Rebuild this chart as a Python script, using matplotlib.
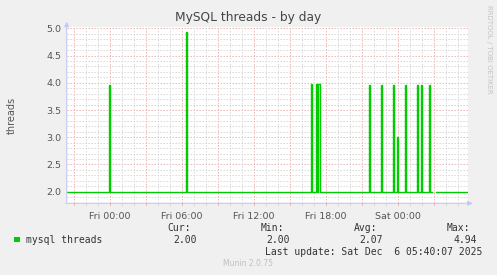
import numpy as np
import matplotlib
matplotlib.use("Agg")
import matplotlib.pyplot as plt

# hours relative to Fri 00:00, one sample every 5 minutes
start_h = -3 - 35 / 60.0     # Thu 20:25
end_h = 29 + 45 / 60.0       # Sat 05:45
step_h = 5 / 60.0
baseline = 2.0

# spikes: (hour offset, threads)
spike_hours = [-5 / 60.0, 6 + 20 / 60.0, 16.75, 17 + 10 / 60.0, 17 + 20 / 60.0, 17 + 25 / 60.0,
               21 + 35 / 60.0, 22 + 35 / 60.0, 23 + 35 / 60.0, 23 + 55 / 60.0,
               24 + 35 / 60.0, 25 + 35 / 60.0, 25 + 55 / 60.0, 26 + 35 / 60.0]
spike_vals = [3.96, 4.94, 3.98, 3.98, 3.98, 3.98,
              3.96, 3.96, 3.96, 3.0,
              3.96, 3.96, 3.96, 3.96]
gap_start, gap_end = 26 + 50 / 60.0, 27 + 5 / 60.0   # no data here

tick_pos = [0, 6, 12, 18, 24]
tick_labels = ["Fri 00:00", "Fri 06:00", "Fri 12:00", "Fri 18:00", "Sat 00:00"]

cur, vmin, avg, vmax = "2.00", "2.00", "2.07", "4.94"

t = np.arange(start_h, end_h + 1e-9, step_h)
v = np.full(len(t), baseline)
for h, val in zip(spike_hours, spike_vals):
    v[np.argmin(np.abs(t - h))] = val
v[(t >= gap_start - 1e-6) & (t <= gap_end + 1e-6)] = np.nan

W, H = 497, 275
fig = plt.figure(figsize=(W / 100, H / 100), dpi=100, facecolor="#f0f0f0")
ax = fig.add_axes([66.7 / W, 1 - 203.3 / H, (467.5 - 66.7) / W, (203.3 - 26.7) / H])
ax.set_facecolor("white")
ax.set_xlim(-3.61, 29.79)
ax.set_ylim(1.787, 5.03)

grid_minor = "#d8d8d8"
grid_major = "#ecb4b4"
dots = (0, (1.4, 1.6))
for yy in np.arange(1.8, 5.05, 0.1):
    if abs(yy * 2 - round(yy * 2)) < 1e-6:
        continue
    ax.axhline(yy, color=grid_minor, lw=0.72, ls=dots, zorder=0)
for yy in np.arange(2.0, 5.05, 0.5):
    ax.axhline(yy, color=grid_major, lw=0.72, ls=dots, zorder=0)
for xx in range(-3, 30):
    ax.axvline(xx, color=grid_major if xx % 3 == 0 else grid_minor, lw=0.72, ls=dots, zorder=0)

ax.plot(t, v, drawstyle="steps-post", color="#00cc00", lw=1.0, zorder=3)

for s in ax.spines.values():
    s.set_visible(False)
ax.set_xticks(tick_pos)
ax.set_xticklabels(tick_labels)
ax.set_yticks([2.0, 2.5, 3.0, 3.5, 4.0, 4.5, 5.0])
ax.set_yticklabels(["2.0", "2.5", "3.0", "3.5", "4.0", "4.5", "5.0"])
ax.tick_params(axis="both", length=0, labelsize=6.8, colors="#555555", pad=4)
ax.tick_params(axis="x", pad=6)

# axis lines with arrows
axis_col = "#c8c8f4"
ax.annotate("", xy=(0, 1.045), xytext=(0, -0.01), xycoords="axes fraction",
            arrowprops=dict(arrowstyle="-|>", color=axis_col, lw=0.8, mutation_scale=7), annotation_clip=False)
ax.annotate("", xy=(1.02, 0), xytext=(-0.01, 0), xycoords="axes fraction",
            arrowprops=dict(arrowstyle="-|>", color=axis_col, lw=0.8, mutation_scale=7), annotation_clip=False)
for xx in range(-3, 30):
    ax.plot([xx, xx], [1.787, 1.787 - 0.035], color=grid_major if xx % 3 == 0 else grid_minor,
            lw=0.72, clip_on=False, zorder=4)

fig.text(248 / W, 1 - 17 / H, "MySQL threads - by day", ha="center", va="center", fontsize=8.8, color="#444444")
fig.text(12 / W, 1 - 115 / H, "threads", rotation=90, ha="center", va="center", fontsize=7, color="#555555")
fig.text(489 / W, 1 - 5 / H, "RRDTOOL / TOBI OETIKER", rotation=270, ha="center", va="top", fontsize=5, color="#c4c4c4")

mono = dict(family="DejaVu Sans Mono", fontsize=7, color="#333333", va="center")
fig.patches.append(plt.Rectangle((14 / W, 1 - 242 / H), 5.5 / W, 5.5 / H, transform=fig.transFigure,
                                 facecolor="#00cc00", edgecolor="none"))
fig.text(26 / W, 1 - 240 / H, "mysql threads", **mono)
for x0, lab in zip([167, 261, 354, 447], ["Cur:", "Min:", "Avg:", "Max:"]):
    fig.text(x0 / W, 1 - 228 / H, lab, **mono)
for x1, val in zip([197, 290, 383, 477], [cur, vmin, avg, vmax]):
    fig.text(x1 / W, 1 - 240 / H, val, ha="right", **mono)
fig.text(482 / W, 1 - 252 / H, "Last update: Sat Dec  6 05:40:07 2025", ha="right", **mono)
fig.text(248 / W, 1 - 264 / H, "Munin 2.0.75", ha="center", va="center", fontsize=5.5, color="#c0c0c0")

fig.savefig("out.png", dpi=100, facecolor=fig.get_facecolor())
